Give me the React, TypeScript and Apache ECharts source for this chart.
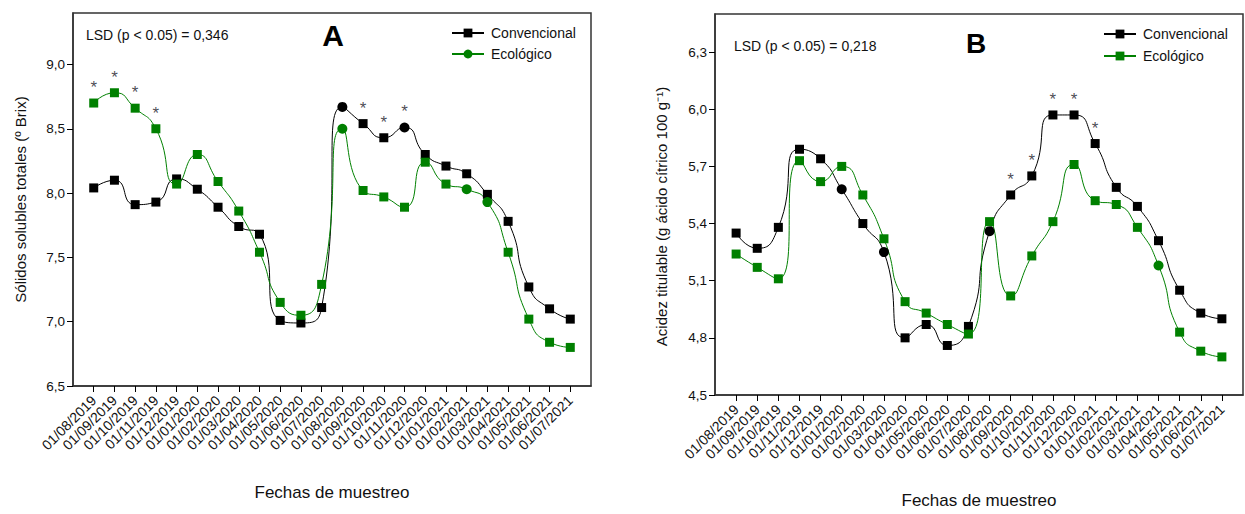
import React, { useEffect, useRef } from "react";
import * as echarts from "echarts";

const dates = [
  "01/08/2019", "01/09/2019", "01/10/2019", "01/11/2019", "01/12/2019", "01/01/2020",
  "01/02/2020", "01/03/2020", "01/04/2020", "01/05/2020", "01/06/2020", "01/07/2020",
  "01/08/2020", "01/09/2020", "01/10/2020", "01/11/2020", "01/12/2020", "01/01/2021",
  "01/02/2021", "01/03/2021", "01/04/2021", "01/05/2021", "01/06/2021", "01/07/2021",
];

// Panel A: Sólidos solubles totales (º Brix)
const solidsConv = [8.04, 8.10, 7.91, 7.93, 8.11, 8.03, 7.89, 7.74, 7.68, 7.01, 6.99, 7.11, 8.67, 8.54, 8.43, 8.51, 8.30, 8.21, 8.15, 7.99, 7.78, 7.27, 7.10, 7.02];
const solidsEco = [8.70, 8.78, 8.66, 8.50, 8.07, 8.30, 8.09, 7.86, 7.54, 7.15, 7.05, 7.29, 8.50, 8.02, 7.97, 7.89, 8.24, 8.07, 8.03, 7.93, 7.54, 7.02, 6.84, 6.80];
const solidsSig = [0, 1, 2, 3, 13, 14, 15];
const solidsTicks = [6.5, 7.0, 7.5, 8.0, 8.5, 9.0];

// Panel B: Acidez titulable
const acidConv = [5.35, 5.27, 5.38, 5.79, 5.74, 5.58, 5.40, 5.25, 4.80, 4.87, 4.76, 4.86, 5.36, 5.55, 5.65, 5.97, 5.97, 5.82, 5.59, 5.49, 5.31, 5.05, 4.93, 4.90];
const acidEco = [5.24, 5.17, 5.11, 5.73, 5.62, 5.70, 5.55, 5.32, 4.99, 4.93, 4.87, 4.82, 5.41, 5.02, 5.23, 5.41, 5.71, 5.52, 5.50, 5.38, 5.18, 4.83, 4.73, 4.70];
const acidSig = [13, 14, 15, 16, 17];
const acidTicks = [4.5, 4.8, 5.1, 5.4, 5.7, 6.0, 6.3];

// marker shapes seen in the figure (mostly squares, a few circles)
const circlesSolidsConv = [12, 15];
const circlesSolidsEco = [12, 18, 19];
const circlesAcidConv = [5, 7, 12];
const circlesAcidEco = [20];

const FONT = "'Liberation Sans', Arial, Helvetica, sans-serif";
const GREEN = "#008000";
const idx = dates.map((_, i) => i);

function pts(vals: number[], circles: number[], base: string) {
  return vals.map((v, i) => {
    const sym = circles.includes(i) ? "circle" : "rect";
    return sym === base ? [i, v] : { value: [i, v], symbol: sym, symbolSize: sym === "circle" ? 10 : 9 };
  });
}

function lineSeries(name: string, vals: number[], circles: number[], base: string, color: string, ax: number) {
  return {
    name,
    type: "line",
    xAxisIndex: ax,
    yAxisIndex: ax,
    smooth: 0.6,
    symbol: base,
    symbolSize: base === "circle" ? 10 : 9,
    showSymbol: true,
    lineStyle: { color, width: 1 },
    itemStyle: { color, borderWidth: 0 },
    data: pts(vals, circles, base),
    z: 3,
  };
}

function sigSeries(a: number[], b: number[], sig: number[], ax: number) {
  return {
    type: "scatter",
    xAxisIndex: ax,
    yAxisIndex: ax,
    symbolSize: 0,
    silent: true,
    data: sig.map((i) => [i, Math.max(a[i], b[i])]),
    label: {
      show: true,
      formatter: "*",
      position: "top",
      distance: 7,
      fontSize: 17,
      fontFamily: FONT,
      color: "#1a1a2a",
    },
    z: 4,
  };
}

const comma = (v: number) => v.toFixed(1).replace(".", ",");

function xAxisFor(grid: number, gap: number) {
  return {
    type: "value",
    gridIndex: grid,
    min: -1,
    max: 24,
    name: "Fechas de muestreo",
    nameLocation: "middle",
    nameGap: gap,
    nameTextStyle: { fontSize: 17, fontFamily: FONT, color: "#111" },
    axisLine: { show: true, onZero: false, lineStyle: { color: "#333", width: 1.5 } },
    axisTick: { show: true, length: 6, customValues: idx, lineStyle: { color: "#000", width: 1 } },
    axisLabel: {
      customValues: idx,
      formatter: (v: number) => dates[Math.round(v)] ?? "",
      rotate: 45,
      margin: 12,
      fontSize: 14,
      fontFamily: FONT,
      color: "#111",
    },
    splitLine: { show: false },
  };
}

function yAxisFor(grid: number, min: number, max: number, ticks: number[], name: string, gap: number, pad: number[]) {
  return {
    type: "value",
    gridIndex: grid,
    min,
    max,
    name,
    nameLocation: "middle",
    nameGap: gap,
    nameTextStyle: { fontSize: 15, fontFamily: FONT, color: "#111", padding: pad },
    axisLine: { show: true, onZero: false, lineStyle: { color: "#333", width: 1.5 } },
    axisTick: { show: true, length: 6, customValues: ticks, lineStyle: { color: "#000", width: 1 } },
    axisLabel: { customValues: ticks, formatter: comma, fontSize: 13.5, fontFamily: FONT, color: "#111", margin: 8 },
    splitLine: { show: false },
  };
}

function legendFor(left: number, top: number, gap: number) {
  return {
    left,
    top,
    orient: "vertical",
    itemWidth: 32,
    itemHeight: 11,
    itemGap: gap,
    padding: 0,
    textStyle: { fontSize: 14, fontFamily: FONT, color: "#111", padding: [0, 0, 0, 2] },
  };
}

export default function App() {
  const ref = useRef<HTMLDivElement>(null);
  useEffect(() => {
    if (!ref.current) return;
    const chart = echarts.init(ref.current, undefined, { renderer: "svg" });
    const option = {
      animation: false,
      backgroundColor: "#fff",
      grid: [
        { left: 73, top: 13, width: 518, height: 373, show: true, borderColor: "#333", borderWidth: 1.5 },
        { left: 715, top: 14, width: 528, height: 384, show: true, borderColor: "#333", borderWidth: 1.5 },
      ],
      xAxis: [xAxisFor(0, 98), xAxisFor(1, 97)],
      yAxis: [
        yAxisFor(0, 6.5, 9.4, solidsTicks, "Sólidos solubles totales (º Brix)", 45, [0, 0, 0, 0]),
        yAxisFor(1, 4.5, 6.5, acidTicks, "Acidez titulable (g ácido cítrico 100 g⁻¹)", 46, [0, 24, 0, 0]),
      ],
      legend: [
        { ...legendFor(451, 26, 7), data: ["Convencional", "Ecológico"] },
        { ...legendFor(1103, 27, 8), data: ["Convencional ", "Ecológico "] },
      ],
      graphic: [
        { type: "text", x: 333, y: 35, style: { text: "A", fontSize: 30, fontWeight: "bold", fontFamily: FONT, fill: "#000", textAlign: "center", textVerticalAlign: "middle" } },
        { type: "text", x: 976, y: 43, style: { text: "B", fontSize: 28, fontWeight: "bold", fontFamily: FONT, fill: "#000", textAlign: "center", textVerticalAlign: "middle" } },
        { type: "text", x: 86, y: 35, style: { text: "LSD (p < 0.05) = 0,346", fontSize: 14, fontFamily: FONT, fill: "#111", textAlign: "left", textVerticalAlign: "middle" } },
        { type: "text", x: 734, y: 46, style: { text: "LSD (p < 0.05) = 0,218", fontSize: 14, fontFamily: FONT, fill: "#111", textAlign: "left", textVerticalAlign: "middle" } },
      ],
      series: [
        lineSeries("Convencional", solidsConv, circlesSolidsConv, "rect", "#000", 0),
        lineSeries("Ecológico", solidsEco, circlesSolidsEco, "circle", GREEN, 0),
        sigSeries(solidsConv, solidsEco, solidsSig, 0),
        lineSeries("Convencional ", acidConv, circlesAcidConv, "rect", "#000", 1),
        lineSeries("Ecológico ", acidEco, circlesAcidEco, "rect", GREEN, 1),
        sigSeries(acidConv, acidEco, acidSig, 1),
      ],
    };
    chart.setOption(option as any);
    return () => chart.dispose();
  }, []);
  return (
    <div
      ref={ref}
      style={{ position: "fixed", left: 0, top: 0, width: 1245, height: 514, background: "#fff" }}
    />
  );
}
